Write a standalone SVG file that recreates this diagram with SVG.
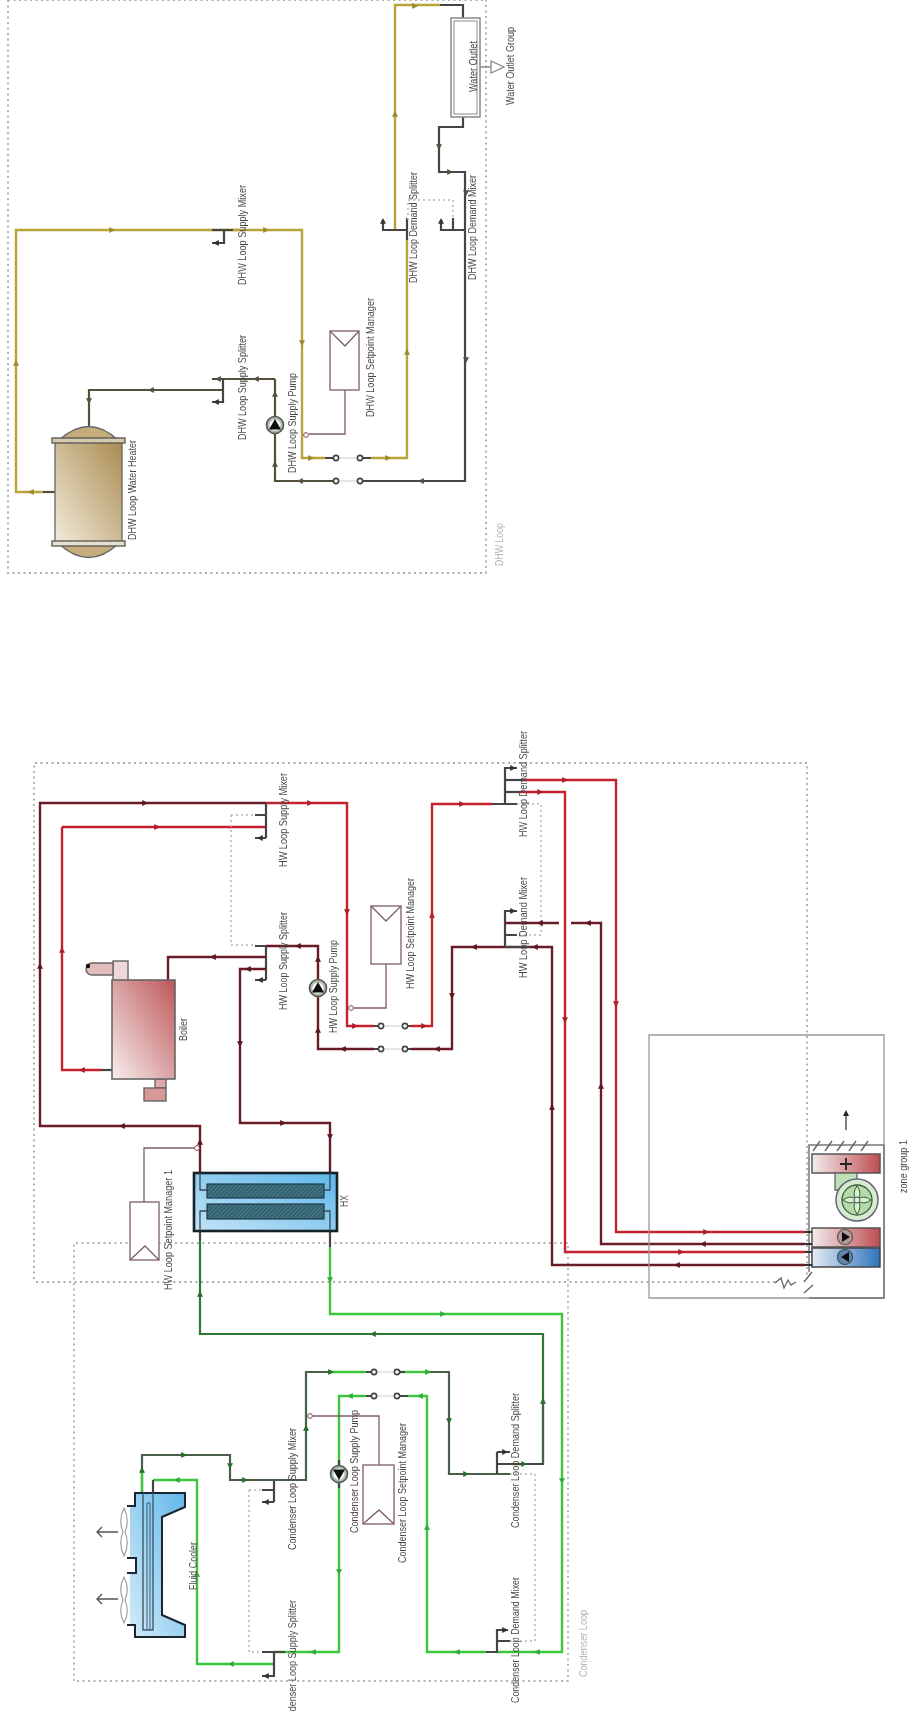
<svg xmlns="http://www.w3.org/2000/svg" width="910" height="1711" viewBox="0 0 910 1711">
<style>
text{font-family:"Liberation Sans",Arial,sans-serif;font-size:10px;fill:#4a4a4a}
.l{fill:#b4b4b4;font-size:10px}
.p{fill:none;stroke-linejoin:miter}
.y{stroke:#b8a438;stroke-width:2.4}
.o{stroke:#55503c;stroke-width:2.2}
.r{stroke:#c4202e;stroke-width:2.4}
.m{stroke:#6a1f28;stroke-width:2.4}
.k{stroke:#444;stroke-width:2.2}
.g{stroke:#3cc63c;stroke-width:2.4}
.d{stroke:#2f7a33;stroke-width:2.2}
.e{stroke:#4a5f4a;stroke-width:2.2}
.b{fill:none;stroke:#aaa;stroke-width:1.8;stroke-dasharray:2 3.5}
.s{fill:none;stroke:#b5b5b5;stroke-width:1.5;stroke-dasharray:2 3}
.ctl{fill:none;stroke:#7d5c68;stroke-width:1.3}
.sp{fill:#fff;stroke:#7d5c68;stroke-width:1.3}
.v{fill:#fff;stroke:#444;stroke-width:1.6}
.vl{stroke:#ccc;stroke-width:1}
.ay{fill:#9a8a2f}.ao{fill:#55503c}.ar{fill:#b01a2a}.am{fill:#5e1422}.ag{fill:#2fae35}.ad{fill:#256d2b}.ak{fill:#333}
</style>
<defs>
<path id="R" d="M-2.8,-3 L3,0 L-2.8,3Z"/>
<path id="L" d="M2.8,-3 L-3,0 L2.8,3Z"/>
<path id="U" d="M-3,2.8 L0,-3 L3,2.8Z"/>
<path id="D" d="M-3,-2.8 L0,3 L3,-2.8Z"/>
<linearGradient id="gh" x1="1" y1="0" x2="0" y2="1"><stop offset="0" stop-color="#a98a4f"/><stop offset="1" stop-color="#f3ecdc"/></linearGradient>
<linearGradient id="gb" x1="1" y1="0" x2="0" y2="1"><stop offset="0" stop-color="#bd5758"/><stop offset="1" stop-color="#f8eeee"/></linearGradient>
<linearGradient id="gx" x1="1" y1="0" x2="0" y2="1"><stop offset="0" stop-color="#5db6ea"/><stop offset="1" stop-color="#c3e4f6"/></linearGradient>
<linearGradient id="gc" x1="1" y1="0" x2="0" y2="1"><stop offset="0" stop-color="#62b8ea"/><stop offset="1" stop-color="#d3ebf8"/></linearGradient>
<linearGradient id="gr" x1="0" y1="0" x2="1" y2="0"><stop offset="0" stop-color="#f2ecec"/><stop offset="1" stop-color="#bf4d52"/></linearGradient>
<linearGradient id="gu" x1="0" y1="0" x2="1" y2="0"><stop offset="0" stop-color="#e6edf4"/><stop offset="1" stop-color="#2f74bd"/></linearGradient>
<pattern id="hat" width="3" height="3" patternUnits="userSpaceOnUse" patternTransform="rotate(45)"><rect width="3" height="3" fill="#33606f"/><rect width="1" height="3" fill="#4a7d8a"/></pattern>
<g id="pump"><circle r="8.5" fill="#a9bfa9" stroke="#555" stroke-width="1.6"/><circle r="5.6" fill="#fff" stroke="none"/><path d="M0,-6 L6,4.5 L-6,4.5Z" fill="#111"/></g>
<filter id="soft" x="0" y="0" width="100%" height="100%"><feGaussianBlur stdDeviation="0.6"/></filter>
</defs>
<g filter="url(#soft)">
<rect width="910" height="1711" fill="#fff"/>
<g id="boundaries">
<path class="b" d="M8,0 V573 H486 V0 M8,0 H486"/>
<path class="b" d="M34,1279 V763 H807 V1275 M775,1282 H34"/>
<path class="b" d="M74,1681 V1243 H568 V1681 H74" style="stroke:#b8b0b0"/>
</g>
<g id="connectors">
<path class="p y" d="M43,492 H16 V230 H302 V458 H325"/>
<path class="p o" d="M43,492 H55"/>
<path class="p y" d="M371,458 H407 V240"/>
<path class="p y" d="M395,230 V5 H440"/>
<path class="p k" d="M440,5 H463 V18"/>
<path class="p k" d="M463,117 V127 H439 V172 H465 V481 H368"/>
<path class="p o" d="M330,481 H275 V379"/>
<path class="p o" d="M275,379 H223"/>
<path class="p o" d="M223,390 H89 V427"/>
<path class="p y" d="M212,230 H240"/>
<path class="p k" d="M212,230 H233 M224,230 V243 H212"/>
<path class="p k" d="M383,220 V230 H407 M407,218 V240"/>
<path class="p k" d="M441,220 V230 H465 M453,218 V230"/>
<path class="p k" d="M212,379 H223 M223,379 V402 H212"/>
<path class="p k" d="M325,458 H334 M362,458 H371 M330,481 H334 M362,481 H368"/>
<path class="p m" d="M266,803 H40 V1126 H200 V1173"/>
<path class="p r" d="M266,803 H347 V1026 H374"/>
<path class="p r" d="M62,827 H266"/>
<path class="p r" d="M101,1070 H62 V827"/>
<path class="p k" d="M101,1070 H112"/>
<path class="p k" d="M255,815 H266 M255,838 H266 M266,803 V838"/>
<path class="p k" d="M255,946 H266 M255,980 H266 M266,946 V980"/>
<path class="p m" d="M266,946 H318 V1049 H374 M411,1049 H452 V947 H552 V1265 H805"/>
<path class="p m" d="M168,980 V957 H266"/>
<path class="p m" d="M266,969 H240 V1123 H330 V1173"/>
<path class="p r" d="M411,1026 H432 V804 H492"/>
<path class="p k" d="M492,804 H517 M505,804 V768 H517"/>
<path class="p r" d="M525,780 H616 V1232 H805"/>
<path class="p k" d="M505,780 H525"/>
<path class="p r" d="M520,792 H565 V1252 H805"/>
<path class="p k" d="M505,792 H520"/>
<path class="p k" d="M505,947 V911 H517 M505,935 H517 M505,947 H530"/>
<path class="p m" d="M505,923 H559 M571,923 H601 V1244 H805"/>
<path class="p k" d="M374,1026 H378 M408,1026 H411 M374,1049 H378 M408,1049 H411"/>
<path class="p k" d="M200,1231 V1240 M330,1231 V1247"/>
<path class="p d" d="M200,1240 V1334 H543 V1464"/>
<path class="p e" d="M543,1400 V1464 H520"/>
<path class="p g" d="M330,1247 V1314 H562 V1652 H497"/>
<path class="p g" d="M486,1652 H427 V1396 H408"/>
<path class="p g" d="M366,1396 H339 V1652 H285"/>
<path class="p k" d="M339,1460 V1488"/>
<path class="p g" d="M285,1652 H274 M274,1664 H197 V1480 H153"/>
<path class="p k" d="M153,1480 V1497"/>
<path class="p k" d="M262,1652 H285 M274,1652 V1676 H262"/>
<path class="p k" d="M262,1490 H274 M262,1502 H274 M274,1480 V1502"/>
<path class="p e" d="M142,1497 V1455 H230 V1480 H306 V1372 H366"/>
<path class="p g" d="M142,1497 V1470"/>
<path class="p g" d="M395,1372 H430"/>
<path class="p e" d="M430,1372 H449 V1474 H510"/>
<path class="p g" d="M332,1372 H366"/>
<path class="p k" d="M497,1452 V1474 M497,1452 H510 M497,1464 H543"/>
<path class="p k" d="M486,1652 H497 V1630 H508 M497,1641 H510"/>
<path class="p k" d="M366,1372 H371 M400,1372 H405 M366,1396 H371 M400,1396 H408"/>
<path class="s" d="M231,815 V945 H255 M231,815 H255"/>
<path class="s" d="M517,804 H541 V935 H517"/>
<path class="s" d="M249,1490 H262 M249,1490 V1652 H262"/>
<path class="s" d="M510,1474 H535 V1641 H510"/>
<path class="s" d="M408,220 V200 H453 V220"/>
<g class="ay"><use href="#R" x="112" y="230"/><use href="#R" x="266" y="230"/><use href="#D" x="302" y="343"/><use href="#U" x="16" y="363"/><use href="#L" x="31" y="492"/><use href="#R" x="311" y="458"/><use href="#R" x="388" y="458"/><use href="#U" x="407" y="352"/><use href="#U" x="395" y="114"/><use href="#R" x="415" y="6"/></g>
<g class="ao"><use href="#D" x="439" y="147"/><use href="#R" x="450" y="172"/><use href="#D" x="466" y="193"/><use href="#D" x="466" y="360"/><use href="#L" x="421" y="481"/><use href="#L" x="300" y="481"/><use href="#U" x="275" y="394"/><use href="#U" x="275" y="464"/><use href="#L" x="256" y="379"/><use href="#L" x="218" y="379"/><use href="#L" x="151" y="390"/><use href="#D" x="89" y="401"/></g>
<g class="ar"><use href="#R" x="310" y="803"/><use href="#R" x="157" y="827"/><use href="#U" x="62" y="950"/><use href="#L" x="82" y="1070"/><use href="#D" x="347" y="912"/><use href="#R" x="355" y="1026"/><use href="#R" x="424" y="1026"/><use href="#U" x="432" y="915"/><use href="#R" x="462" y="804"/><use href="#R" x="565" y="780"/><use href="#D" x="616" y="1004"/><use href="#R" x="706" y="1232"/><use href="#R" x="540" y="792"/><use href="#D" x="565" y="1020"/><use href="#R" x="681" y="1252"/></g>
<g class="am"><use href="#R" x="145" y="803"/><use href="#U" x="40" y="966"/><use href="#L" x="122" y="1126"/><use href="#U" x="200" y="1142"/><use href="#L" x="298" y="946"/><use href="#U" x="318" y="959"/><use href="#U" x="318" y="1030"/><use href="#L" x="343" y="1049"/><use href="#L" x="437" y="1049"/><use href="#D" x="452" y="996"/><use href="#L" x="474" y="947"/><use href="#L" x="535" y="947"/><use href="#L" x="540" y="923"/><use href="#L" x="588" y="923"/><use href="#U" x="552" y="1107"/><use href="#U" x="601" y="1086"/><use href="#L" x="677" y="1265"/><use href="#L" x="703" y="1244"/><use href="#L" x="213" y="957"/><use href="#L" x="248" y="969"/><use href="#D" x="240" y="1044"/><use href="#R" x="283" y="1123"/><use href="#D" x="330" y="1137"/></g>
<g class="ag"><use href="#D" x="330" y="1280"/><use href="#R" x="443" y="1314"/><use href="#D" x="562" y="1481"/><use href="#L" x="537" y="1652"/><use href="#L" x="457" y="1652"/><use href="#U" x="427" y="1527"/><use href="#L" x="420" y="1396"/><use href="#L" x="350" y="1396"/><use href="#D" x="339" y="1572"/><use href="#L" x="313" y="1652"/><use href="#L" x="231" y="1664"/><use href="#U" x="197" y="1574"/><use href="#L" x="177" y="1480"/><use href="#R" x="428" y="1372"/></g>
<g class="ad"><use href="#U" x="200" y="1294"/><use href="#L" x="373" y="1334"/><use href="#U" x="543" y="1401"/><use href="#R" x="524" y="1464"/><use href="#R" x="466" y="1474"/><use href="#D" x="449" y="1421"/><use href="#R" x="331" y="1372"/><use href="#U" x="306" y="1428"/><use href="#R" x="245" y="1480"/><use href="#D" x="230" y="1466"/><use href="#R" x="184" y="1455"/><use href="#U" x="142" y="1470"/></g>
<g class="ak"><use href="#U" x="383" y="221"/><use href="#U" x="441" y="221"/><use href="#L" x="216" y="243"/><use href="#L" x="216" y="402"/><use href="#L" x="260" y="838"/><use href="#L" x="260" y="980"/><use href="#R" x="513" y="768"/><use href="#R" x="513" y="911"/><use href="#L" x="266" y="1676"/><use href="#L" x="266" y="1502"/><use href="#R" x="505" y="1452"/><use href="#R" x="505" y="1630"/></g>
<path class="ctl" d="M345,390 V434 H309"/><circle cx="306" cy="435" r="2.4" fill="#fff" stroke="#8a4a5a"/>
<path class="ctl" d="M386,964 V1008 H354"/><circle cx="351" cy="1008" r="2.4" fill="#fff" stroke="#8a4a5a"/>
<path class="ctl" d="M144,1202 V1148 H194"/><circle cx="197" cy="1148" r="2.4" fill="#fff" stroke="#8a4a5a"/>
<path class="ctl" d="M379,1465 V1416 H313"/><circle cx="310" cy="1416" r="2.4" fill="#fff" stroke="#8a4a5a"/>
</g>
<g id="valves">
<path class="vl" d="M336,458 H360 M336,481 H360 M381,1026 H405 M381,1049 H405 M374,1372 H397 M374,1396 H397"/>
<circle class="v" cx="336" cy="458" r="2.6"/><circle class="v" cx="360" cy="458" r="2.6"/><circle class="v" cx="336" cy="481" r="2.6"/><circle class="v" cx="360" cy="481" r="2.6"/>
<circle class="v" cx="381" cy="1026" r="2.6"/><circle class="v" cx="405" cy="1026" r="2.6"/><circle class="v" cx="381" cy="1049" r="2.6"/><circle class="v" cx="405" cy="1049" r="2.6"/>
<circle class="v" cx="374" cy="1372" r="2.6"/><circle class="v" cx="397" cy="1372" r="2.6"/><circle class="v" cx="374" cy="1396" r="2.6"/><circle class="v" cx="397" cy="1396" r="2.6"/>
</g>
<g id="water-outlet"><rect x="451" y="18" width="29" height="99" fill="#fff" stroke="#888" stroke-width="1.5"/><rect x="454" y="21" width="23" height="93" fill="#fff" stroke="#888" stroke-width="1"/><text transform="translate(477,92) rotate(-90)" textLength="51" lengthAdjust="spacingAndGlyphs">Water Outlet</text></g>
<g id="water-outlet-group"><path d="M480,67 H491 M491,61 L504,67 L491,73Z" fill="#fff" stroke="#888" stroke-width="1.3"/><text transform="translate(513.5,105) rotate(-90)" textLength="78" lengthAdjust="spacingAndGlyphs">Water Outlet Group</text></g>
<g id="dhw-heater"><path d="M58,441 Q89,412 119,441Z M58,543 Q89,572 119,543Z" fill="#c4ac7c" stroke="#666" stroke-width="1.3"/><rect x="55" y="440" width="67" height="104" fill="url(#gh)" stroke="#666" stroke-width="1.3"/><rect x="52" y="438" width="73" height="5" fill="#d6c9ac" stroke="#555" stroke-width="1.3"/><rect x="52" y="541" width="73" height="5" fill="#e8e0cf" stroke="#555" stroke-width="1.3"/><text transform="translate(136,540) rotate(-90)" textLength="100" lengthAdjust="spacingAndGlyphs">DHW Loop Water Heater</text></g>
<g id="dhw-pump"><use href="#pump" x="275" y="425"/><text transform="translate(296,473) rotate(-90)" textLength="100" lengthAdjust="spacingAndGlyphs">DHW Loop Supply Pump</text></g>
<g id="dhw-spm"><rect class="sp" x="330" y="331" width="29" height="59"/><path class="ctl" d="M330,331 L345,346 L359,331"/><text transform="translate(374,417) rotate(-90)" textLength="119" lengthAdjust="spacingAndGlyphs">DHW Loop Setpoint Manager</text></g>
<g id="dhw-labels">
<text transform="translate(246,285) rotate(-90)" textLength="100" lengthAdjust="spacingAndGlyphs">DHW Loop Supply Mixer</text>
<text transform="translate(246,440) rotate(-90)" textLength="105" lengthAdjust="spacingAndGlyphs">DHW Loop Supply Splitter</text>
<text transform="translate(417,283) rotate(-90)" textLength="111" lengthAdjust="spacingAndGlyphs">DHW Loop Demand Splitter</text>
<text transform="translate(476,280) rotate(-90)" textLength="105" lengthAdjust="spacingAndGlyphs">DHW Loop Demand Mixer</text>
<text class="l" transform="translate(503,566) rotate(-90)" textLength="43" lengthAdjust="spacingAndGlyphs">DHW Loop</text>
</g>
<g id="boiler"><rect x="113" y="961" width="15" height="20" fill="#efd8d8" stroke="#666" stroke-width="1.4"/><path d="M113,963 H92 A6,6 0 0 0 92,975 H113Z" fill="#e3bcbc" stroke="#666" stroke-width="1.4"/><circle cx="88" cy="966" r="2.2" fill="#111"/><rect x="155" y="1079" width="11" height="9" fill="#e0a8a8" stroke="#666" stroke-width="1.4"/><rect x="144" y="1088" width="22" height="13" fill="#d89898" stroke="#666" stroke-width="1.4"/><rect x="112" y="980" width="63" height="99" fill="url(#gb)" stroke="#666" stroke-width="1.6"/><text transform="translate(187,1041) rotate(-90)" textLength="23" lengthAdjust="spacingAndGlyphs">Boiler</text></g>
<g id="hw-pump"><use href="#pump" x="318" y="988"/><text transform="translate(337,1033) rotate(-90)" textLength="93" lengthAdjust="spacingAndGlyphs">HW Loop Supply Pump</text></g>
<g id="hw-spm"><rect class="sp" x="371" y="906" width="30" height="58"/><path class="ctl" d="M371,906 L386,921 L401,906"/><text transform="translate(414,989) rotate(-90)" textLength="111" lengthAdjust="spacingAndGlyphs">HW Loop Setpoint Manager</text></g>
<g id="hw-spm1"><rect class="sp" x="130" y="1202" width="29" height="58"/><path class="ctl" d="M130,1260 L145,1246 L159,1260"/><text transform="translate(172,1290) rotate(-90)" textLength="120" lengthAdjust="spacingAndGlyphs">HW Loop Setpoint Manager 1</text></g>
<g id="hx"><rect x="194" y="1173" width="143" height="58" fill="url(#gx)" stroke="#14202a" stroke-width="2.6"/><rect x="207" y="1184" width="117" height="14" fill="url(#hat)" stroke="#1d3a48" stroke-width="1.2"/><rect x="207" y="1204" width="117" height="15" fill="url(#hat)" stroke="#1d3a48" stroke-width="1.2"/><path d="M200,1173 V1190 H207 M330,1173 V1190 H324 M200,1231 V1211 H207 M330,1231 V1211 H324" fill="none" stroke="#3a4a55" stroke-width="1.3"/><text transform="translate(348,1207) rotate(-90)" textLength="12" lengthAdjust="spacingAndGlyphs">HX</text></g>
<g id="hw-labels">
<text transform="translate(287,867) rotate(-90)" textLength="94" lengthAdjust="spacingAndGlyphs">HW Loop Supply Mixer</text>
<text transform="translate(287,1010) rotate(-90)" textLength="98" lengthAdjust="spacingAndGlyphs">HW Loop Supply Splitter</text>
<text transform="translate(527,837) rotate(-90)" textLength="106" lengthAdjust="spacingAndGlyphs">HW Loop Demand Splitter</text>
<text transform="translate(527,978) rotate(-90)" textLength="101" lengthAdjust="spacingAndGlyphs">HW Loop Demand Mixer</text>
</g>
<g id="zone">
<path d="M649,1298 V1035 H884 V1298 Z" fill="none" stroke="#999" stroke-width="1.3"/>
<path d="M809,1272 V1145 H884 V1298 H809" fill="none" stroke="#777" stroke-width="1.5"/>
<path d="M813,1151 L820,1141 M825,1151 L832,1141 M837,1151 L844,1141 M849,1151 L856,1141 M861,1151 L868,1141 M804,1282 L812,1272 M804,1293 L813,1285" fill="none" stroke="#666" stroke-width="1.4"/>
<path d="M846,1130 V1114" stroke="#555" stroke-width="1.5"/><path d="M846,1110 L849,1116 H843Z" fill="#222"/>
<path d="M775,1283 L781,1278 L784,1288 L788,1280 L791,1285 L796,1282" fill="none" stroke="#666" stroke-width="1.3"/>
<rect x="812" y="1154" width="68" height="19" fill="url(#gr)" stroke="#555" stroke-width="1.5"/><path d="M846,1158 V1170 M840,1164 H852" stroke="#222" stroke-width="1.8"/>
<path d="M835,1173 V1190 H857 V1173Z" fill="#bde0b4" stroke="#666" stroke-width="1.3"/>
<circle cx="857" cy="1200" r="21" fill="#d5ecd0" stroke="#667" stroke-width="1.5"/><circle cx="857" cy="1200" r="15" fill="#b3dcaa" stroke="#3c5a3c" stroke-width="1.3"/><path d="M857,1186 Q851,1194 857,1200 Q863,1194 857,1186 M871,1200 Q863,1194 857,1200 Q863,1206 871,1200 M857,1214 Q863,1206 857,1200 Q851,1206 857,1214 M843,1200 Q851,1206 857,1200 Q851,1194 843,1200" fill="#d8eed2" stroke="#3c5a3c" stroke-width="1"/><circle cx="857" cy="1200" r="3" fill="#e4f3e0" stroke="#3c5a3c"/>
<rect x="812" y="1228" width="68" height="19" fill="url(#gr)" stroke="#555" stroke-width="1.5"/><circle cx="845" cy="1237" r="7.5" fill="#b79a9a" stroke="#555" stroke-width="1.2"/><path d="M842,1232 L850,1237 L842,1242Z" fill="#111"/>
<rect x="812" y="1248" width="68" height="19" fill="url(#gu)" stroke="#444" stroke-width="1.5"/><circle cx="845" cy="1257" r="7.5" fill="#5f86ae" stroke="#355" stroke-width="1.2"/><path d="M849,1252 L841,1257 L849,1262Z" fill="#111"/>
<path d="M805,1232 H812 M805,1244 H812 M805,1252 H812 M805,1265 H812" stroke="#333" stroke-width="2"/>
<text transform="translate(907,1193) rotate(-90)" textLength="53" lengthAdjust="spacingAndGlyphs">zone group 1</text>
</g>
<g id="fluid-cooler">
<path d="M135,1493 H185 V1507 L162,1517 V1615 L185,1625 V1637 H135 V1625 H130 V1573 H136 V1558 H130 V1506 H135Z" fill="url(#gc)" stroke="none"/>
<path d="M127,1506 H135 V1493 H185 V1507 L162,1517 V1615 L185,1625 V1637 H135 V1625 H127 M127,1558 H136 V1573 H127" fill="none" stroke="#1b2730" stroke-width="2"/>
<path d="M143,1493 V1630 H153 V1493" fill="none" stroke="#3a5a70" stroke-width="1.4"/><path d="M147,1503 V1630 M150,1503 V1630 M147,1503 H150" fill="none" stroke="#3a5a70" stroke-width="1"/>
<path d="M124,1508 Q130,1520 125,1532 Q130,1544 124,1556 Q118,1544 123,1532 Q118,1520 124,1508Z M124,1577 Q130,1588 125,1600 Q130,1612 124,1623 Q118,1612 123,1600 Q118,1588 124,1577Z" fill="#fff" stroke="#999" stroke-width="1.1"/>
<path d="M118,1532 H97 M102,1527 L97,1532 L102,1537 M118,1599 H97 M102,1594 L97,1599 L102,1604" fill="none" stroke="#555" stroke-width="1.4"/>
<text transform="translate(197,1590) rotate(-90)" textLength="48" lengthAdjust="spacingAndGlyphs">Fluid Cooler</text>
</g>
<g id="cond-pump"><g transform="translate(339,1474) rotate(180)"><use href="#pump"/></g><text transform="translate(358,1533) rotate(-90)" textLength="123" lengthAdjust="spacingAndGlyphs">Condenser Loop Supply Pump</text></g>
<g id="cond-spm"><rect class="sp" x="363" y="1465" width="31" height="59"/><path class="ctl" d="M363,1524 L379,1510 L394,1524"/><text transform="translate(406,1563) rotate(-90)" textLength="140" lengthAdjust="spacingAndGlyphs">Condenser Loop Setpoint Manager</text></g>
<g id="cond-labels">
<text transform="translate(296,1550) rotate(-90)" textLength="122" lengthAdjust="spacingAndGlyphs">Condenser Loop Supply Mixer</text>
<text transform="translate(296,1728) rotate(-90)" textLength="128" lengthAdjust="spacingAndGlyphs">Condenser Loop Supply Splitter</text>
<text transform="translate(519,1528) rotate(-90)" textLength="135" lengthAdjust="spacingAndGlyphs">Condenser Loop Demand Splitter</text>
<text transform="translate(519,1703) rotate(-90)" textLength="126" lengthAdjust="spacingAndGlyphs">Condenser Loop Demand Mixer</text>
<text class="l" transform="translate(587,1677) rotate(-90)" textLength="67" lengthAdjust="spacingAndGlyphs">Condenser Loop</text>
</g>
</g>
</svg>
